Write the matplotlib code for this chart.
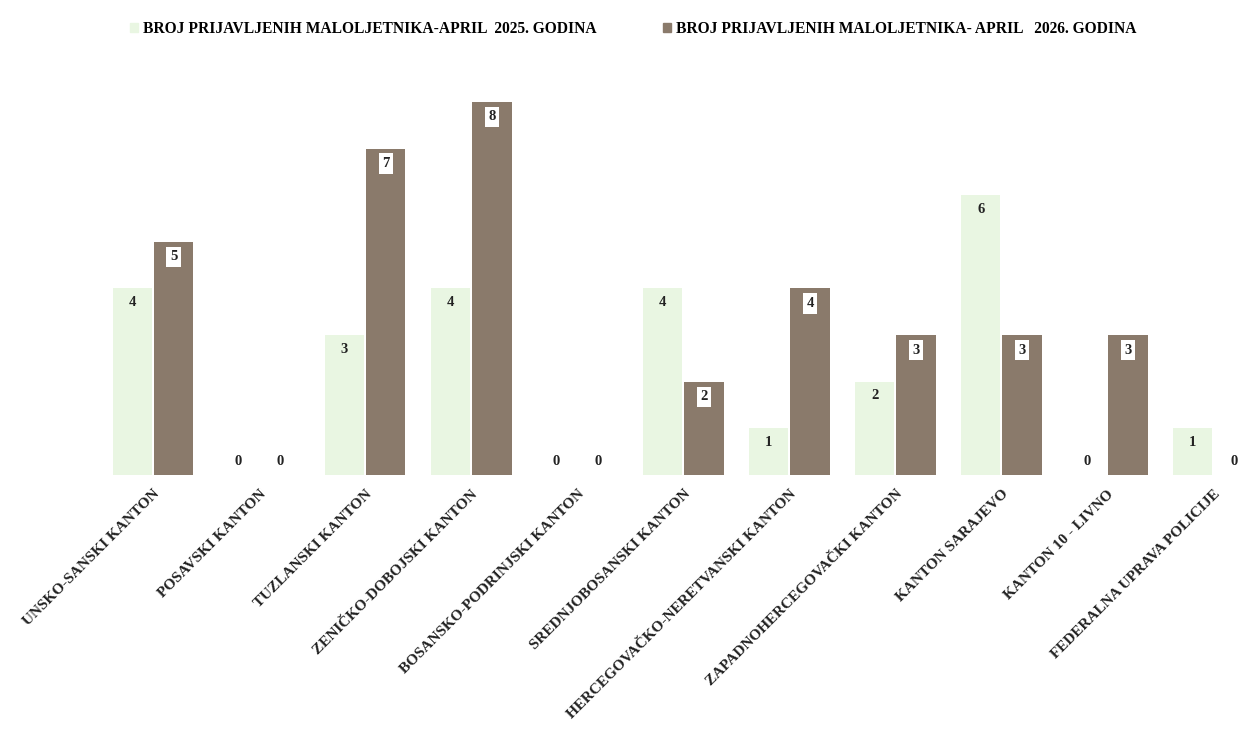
import numpy as np
import matplotlib
matplotlib.use("Agg")
import matplotlib.pyplot as plt
from matplotlib.patches import Patch

kantoni = [
    "UNSKO-SANSKI KANTON",
    "POSAVSKI KANTON",
    "TUZLANSKI KANTON",
    "ZENIČKO-DOBOJSKI KANTON",
    "BOSANSKO-PODRINJSKI KANTON",
    "SREDNJOBOSANSKI KANTON",
    "HERCEGOVAČKO-NERETVANSKI KANTON",
    "ZAPADNOHERCEGOVAČKI KANTON",
    "KANTON SARAJEVO",
    "KANTON 10 - LIVNO",
    "FEDERALNA UPRAVA POLICIJE",
]
god_2025 = [4, 0, 3, 4, 0, 4, 1, 2, 6, 0, 1]
god_2026 = [5, 0, 7, 8, 0, 2, 4, 3, 3, 3, 0]

label_2025 = "BROJ PRIJAVLJENIH MALOLJETNIKA-APRIL  2025. GODINA"
label_2026 = "BROJ PRIJAVLJENIH MALOLJETNIKA- APRIL   2026. GODINA"

green = "#e9f6e2"
brown = "#8a7a6b"
font = "Liberation Serif"

fig = plt.figure(figsize=(12.42, 7.30), dpi=100)
# axes placed in pixels: baseline ~475px, left ~80px
ax = fig.add_axes([80 / 1242, (730 - 475) / 730, 1 - 80 / 1242, 401 / 730])

x = np.arange(len(kantoni))
w = 0.37
b1 = ax.bar(x - w / 2 - 0.01, god_2025, w, color=green, label=label_2025)
b2 = ax.bar(x + w / 2 + 0.01, god_2026, w, color=brown, label=label_2026)

for xi, v in zip(x - w / 2 - 0.01, god_2025):
    ax.text(xi, max(v - 0.3, 0.28), str(v), ha="center", va="center",
            fontsize=10.5, fontweight="bold", family=font, color="#222222")

for xi, v in zip(x + w / 2 + 0.01, god_2026):
    if v > 0:
        ax.text(xi, v - 0.32, str(v), ha="center", va="center",
                fontsize=10.5, fontweight="bold", family=font, color="#222222",
                bbox=dict(boxstyle="square,pad=0.25", fc="white", ec="none"))
    else:
        ax.text(xi, 0.28, str(v), ha="center", va="center",
                fontsize=10.5, fontweight="bold", family=font, color="#222222")

ax.set_xlim(-0.69, 10.27)
ax.set_ylim(0, 8.6)
ax.set_xticks(x)
ax.set_xticklabels(kantoni, rotation=45, ha="right", rotation_mode="anchor",
                   fontsize=11, fontweight="bold", family=font, color="#222222")
ax.tick_params(axis="x", length=0, pad=9)
ax.set_yticks([])
for s in ax.spines.values():
    s.set_visible(False)

handles = [Patch(color=green), Patch(color=brown)]
fig.legend(handles, [label_2025, label_2026], loc="upper center",
           bbox_to_anchor=(0.51, 0.99), ncol=2, frameon=False,
           handlelength=0.5, handleheight=0.5, handletextpad=0.3,
           columnspacing=4.3, prop={"family": font, "weight": "bold", "size": 11.2})

fig.savefig("out.png", dpi=100)
